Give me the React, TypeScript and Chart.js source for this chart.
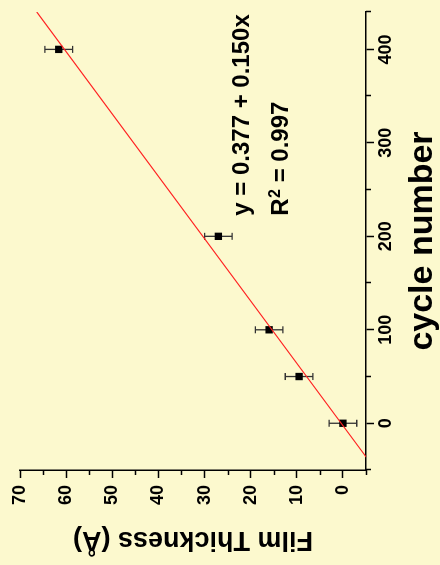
import React, { useEffect, useRef } from "react";
import { Chart, registerables } from "chart.js";

Chart.register(...registerables);

// Measured film thickness vs. deposition cycle count
const cycles = [0, 50, 100, 200, 400];
const thickness = [0, 9.5, 16, 27, 61.6];
const thicknessErr = [3, 3, 3, 3, 3];

// Linear fit parameters
const fitIntercept = 0.377;
const fitSlope = 0.15;
const fitR2 = 0.997;
const fitSpan = [-50, 440];

// Axis ranges and tick steps
const cycleRange = [-50, 440];
const cycleTickStep = 50;
const cycleLabelStep = 100;
const thicknessRange = [-5, 70];
const thicknessTickStep = 5;
const thicknessLabelStep = 10;

// Where the fit legend sits, in data units (cycle, thickness baselines)
const legendAnchor = [222, 20.4, 12.0];

const W = 565;
const H = 440;
const BG = "#fcf9ce";
const FONT = "'Liberation Sans', Arial, Helvetica, sans-serif";
const MAJOR_LEN = 8;
const MINOR_LEN = 5;

Chart.defaults.font.family = FONT;
Chart.defaults.font.size = 18;
Chart.defaults.font.weight = "bold" as any;
Chart.defaults.color = "#000";

// Tick values every `step` across the range, plus the range end itself
function tickValues(range: number[], step: number) {
  const out: number[] = [];
  for (let v = range[0]; v <= range[1] + 1e-9; v += step) out.push(v);
  if (out[out.length - 1] !== range[1]) out.push(range[1]);
  return out.map((value) => ({ value }));
}

const isLabelled = (v: number, step: number) => v >= 0 && v % step === 0;

// Shorter unlabelled ticks, drawn outward from each axis line
const minorTickPlugin = {
  id: "minorTicks",
  afterDraw(chart: any) {
    const { ctx, scales } = chart;
    const xs = scales.x;
    const ys = scales.y;
    ctx.save();
    ctx.strokeStyle = "#000";
    ctx.lineWidth = 1.5;
    ctx.beginPath();
    xs.ticks.forEach((t: any) => {
      if (isLabelled(t.value, cycleLabelStep)) return;
      const px = Math.round(xs.getPixelForValue(t.value)) + 0.5;
      ctx.moveTo(px, xs.top);
      ctx.lineTo(px, xs.top + MINOR_LEN);
    });
    ys.ticks.forEach((t: any) => {
      if (isLabelled(t.value, thicknessLabelStep)) return;
      const py = Math.round(ys.getPixelForValue(t.value)) + 0.5;
      ctx.moveTo(ys.right, py);
      ctx.lineTo(ys.right - MINOR_LEN, py);
    });
    ctx.stroke();
    ctx.restore();
  },
};

const errorBarPlugin = {
  id: "errorBars",
  beforeDatasetsDraw(chart: any) {
    const { ctx, scales } = chart;
    const xs = scales.x;
    const ys = scales.y;
    ctx.save();
    ctx.strokeStyle = "#333";
    ctx.lineWidth = 1.3;
    const cap = 3.5;
    cycles.forEach((c, i) => {
      const px = xs.getPixelForValue(c);
      const lo = ys.getPixelForValue(thickness[i] - thicknessErr[i]);
      const hi = ys.getPixelForValue(thickness[i] + thicknessErr[i]);
      ctx.beginPath();
      ctx.moveTo(px, lo);
      ctx.lineTo(px, hi);
      ctx.moveTo(px - cap, lo);
      ctx.lineTo(px + cap, lo);
      ctx.moveTo(px - cap, hi);
      ctx.lineTo(px + cap, hi);
      ctx.stroke();
    });
    ctx.restore();
  },
};

const fitLabelPlugin = {
  id: "fitLabel",
  afterDraw(chart: any) {
    const { ctx, scales } = chart;
    const x0 = scales.x.getPixelForValue(legendAnchor[0]);
    const y1 = scales.y.getPixelForValue(legendAnchor[1]);
    const y2 = scales.y.getPixelForValue(legendAnchor[2]);
    ctx.save();
    ctx.fillStyle = "#000";
    ctx.textAlign = "left";
    ctx.textBaseline = "alphabetic";
    const big = `bold 24px ${FONT}`;
    const small = `bold 16px ${FONT}`;
    ctx.font = big;
    ctx.fillText(`y = ${fitIntercept.toFixed(3)} + ${fitSlope.toFixed(3)}x`, x0, y1);
    let x = x0;
    ctx.fillText("R", x, y2);
    x += ctx.measureText("R").width + 0.5;
    ctx.font = small;
    ctx.fillText("2", x, y2 - 8);
    x += ctx.measureText("2").width;
    ctx.font = big;
    ctx.fillText(` = ${fitR2.toFixed(3)}`, x, y2);
    ctx.restore();
  },
};

const tickFont = { family: FONT, size: 18, weight: "bold" };

export default function App() {
  const canvasRef = useRef<HTMLCanvasElement | null>(null);

  useEffect(() => {
    const canvas = canvasRef.current;
    if (!canvas) return;
    const chart = new Chart(canvas, {
      type: "scatter",
      data: {
        datasets: [
          {
            type: "line",
            label: "fit",
            data: fitSpan.map((c) => ({ x: c, y: fitIntercept + fitSlope * c })),
            borderColor: "#ff2020",
            borderWidth: 1.1,
            pointRadius: 0,
            fill: false,
          } as any,
          {
            label: "thickness",
            data: cycles.map((c, i) => ({ x: c, y: thickness[i] })),
            pointStyle: "rect",
            pointRadius: 5.2,
            pointHoverRadius: 5.2,
            backgroundColor: "#000",
            borderColor: "#000",
            borderWidth: 0,
          },
        ],
      },
      options: {
        responsive: false,
        devicePixelRatio: 1,
        animation: false,
        events: [],
        layout: { padding: { left: 0, top: 20, right: 12, bottom: 0 } },
        plugins: {
          legend: { display: false },
          tooltip: { enabled: false },
          title: { display: false },
        },
        scales: {
          x: {
            type: "linear",
            position: "bottom",
            min: cycleRange[0],
            max: cycleRange[1],
            afterBuildTicks: (s: any) => {
              s.ticks = tickValues(cycleRange, cycleTickStep);
            },
            afterFit: (s: any) => {
              s.height = 74;
            },
            border: { display: true, color: "#000", width: 1.5 },
            grid: {
              drawOnChartArea: false,
              drawTicks: true,
              tickLength: MAJOR_LEN,
              tickColor: (c: any) =>
                c.tick && isLabelled(c.tick.value, cycleLabelStep) ? "#000" : "rgba(0,0,0,0)",
              tickWidth: 1.5,
            },
            ticks: {
              autoSkip: false,
              maxRotation: 0,
              minRotation: 0,
              padding: 1,
              color: "#000",
              font: tickFont,
              callback: (v: any) => (isLabelled(v, cycleLabelStep) ? String(v) : ""),
            },
            title: {
              display: true,
              text: "cycle number",
              color: "#000",
              font: { family: FONT, size: 34, weight: "bold", lineHeight: 1 },
              padding: 0,
            },
          },
          y: {
            type: "linear",
            min: thicknessRange[0],
            max: thicknessRange[1],
            afterBuildTicks: (s: any) => {
              s.ticks = tickValues(thicknessRange, thicknessTickStep);
            },
            afterFit: (s: any) => {
              s.width = 95;
            },
            border: { display: true, color: "#000", width: 1.5 },
            grid: {
              drawOnChartArea: false,
              drawTicks: true,
              tickLength: MAJOR_LEN,
              tickColor: (c: any) =>
                c.tick && isLabelled(c.tick.value, thicknessLabelStep) ? "#000" : "rgba(0,0,0,0)",
              tickWidth: 1.5,
            },
            ticks: {
              autoSkip: false,
              padding: 7,
              color: "#000",
              font: tickFont,
              callback: (v: any) => (isLabelled(v, thicknessLabelStep) ? String(v) : ""),
            },
            title: {
              display: true,
              text: "Film Thickness (Å)",
              color: "#000",
              font: { family: FONT, size: 27, weight: "bold", lineHeight: 1 },
              padding: 12,
            },
          },
        },
      },
      plugins: [errorBarPlugin, fitLabelPlugin, minorTickPlugin],
    } as any);
    return () => chart.destroy();
  }, []);

  return (
    <div style={{ position: "fixed", inset: 0, background: BG, overflow: "hidden" }}>
      <div
        style={{
          position: "absolute",
          left: 0,
          top: 0,
          width: W,
          height: H,
          transformOrigin: "0 0",
          transform: `translate(0px, ${W}px) rotate(-90deg)`,
        }}
      >
        <canvas ref={canvasRef} width={W} height={H} style={{ display: "block", width: W, height: H }} />
      </div>
    </div>
  );
}
